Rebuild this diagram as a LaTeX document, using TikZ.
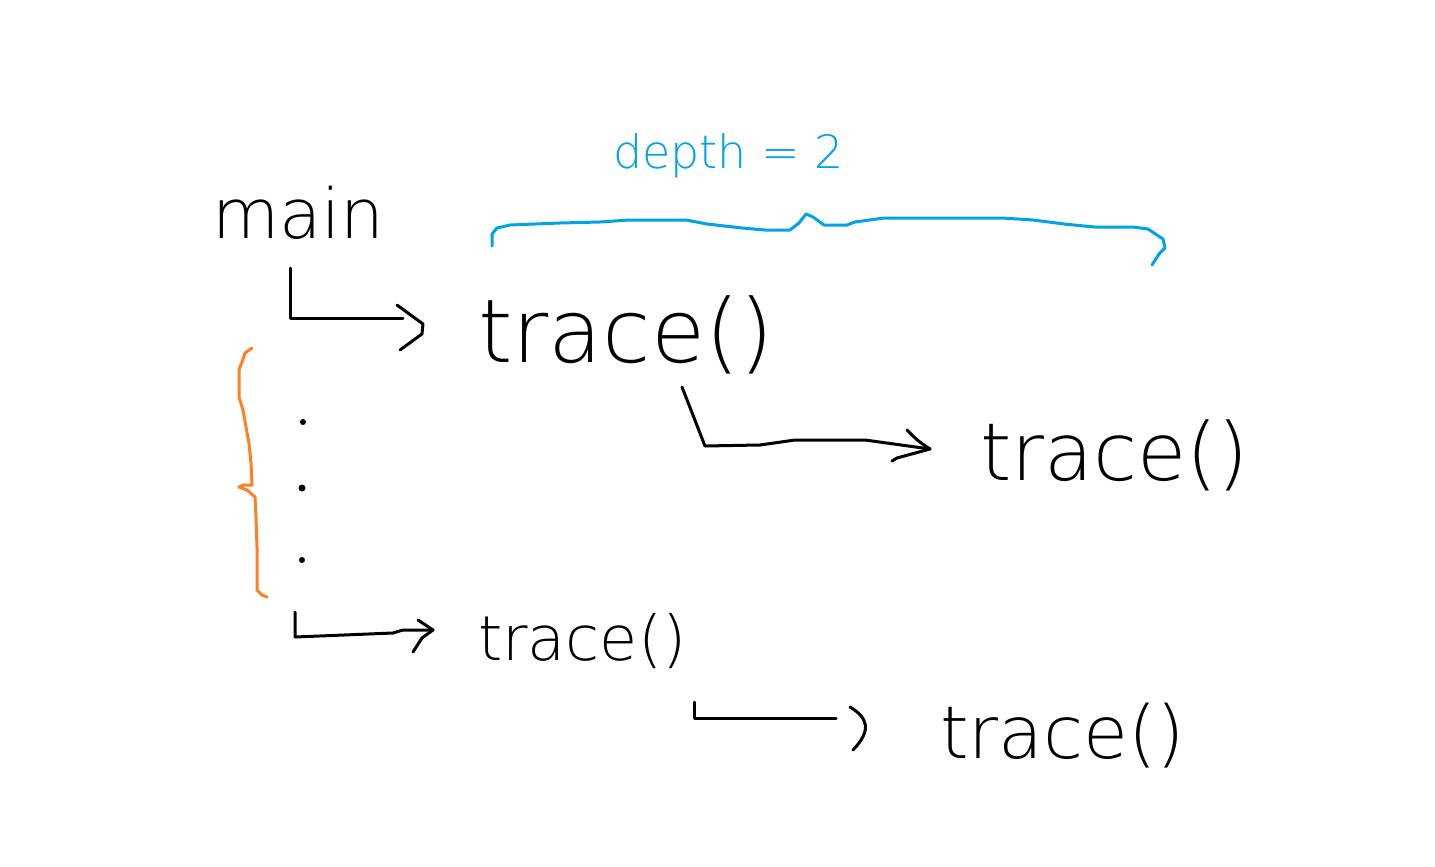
\documentclass[tikz,border=0pt]{standalone}
\usepackage{fontspec}
\setmainfont{DejaVuSans-ExtraLight.ttf}
\usetikzlibrary{calc}
\definecolor{paintblue}{RGB}{0,162,232}
\definecolor{paintorange}{RGB}{255,127,39}
\begin{document}
\begin{tikzpicture}[x=1pt,y=-1pt, line width=3pt, line cap=round, line join=round,
  txt/.style={anchor=base west, inner sep=0pt, outer sep=0pt},
  conn/.style={draw=black, line width=3pt},
  bluebrace/.style={draw=paintblue, line width=3pt},
  orangebrace/.style={draw=paintorange, line width=3pt}]
\useasboundingbox[fill=white] (0,0) rectangle (1435,867);

% texts
\node[txt, font=\fontsize{69}{70}\selectfont] (main) at (212,238) {main};
\node[txt, font=\fontsize{88}{90}\selectfont] (t1) at (478,362) {trace()};
\node[txt, font=\fontsize{80}{80}\selectfont] (t2) at (980,480) {trace()};
\node[txt, font=\fontsize{62}{64}\selectfont] (t3) at (478,660) {trace()};
\node[txt, font=\fontsize{73}{74}\selectfont] (t4) at (940,758) {trace()};
\node[txt, text=paintblue, font=\fontsize{46}{48}\selectfont] (depth) at (613,168) {depth = 2};

% main -> trace()
\coordinate (a1s) at ($(main.base west)+(78,30)$);
\coordinate (a1e) at ($(t1.base west)+(-55,-38)$);
\draw[conn] (a1s) |- ($(a1e)+(-20,-6)$);
\draw[conn] ($(a1e)+(-26,-19)$) -- (a1e) -- ($(a1e)+(-1,10)$) -- ($(a1e)+(-23,26)$);

% trace() -> trace()
\coordinate (a2s) at ($(t1.base west)+(204,25)$);
\coordinate (a2e) at ($(t2.base west)+(-50,-31)$);
\draw[conn] (a2s) -- ++(23,59) -- ++(55,-1) -- ++(35,-5) -- ++(70,0) -- (a2e);
\draw[conn] ($(a2e)+(-23,-19)$) .. controls ($(a2e)+(-12,-8)$) .. (a2e) -- ($(a2e)+(-33,9)$) -- ($(a2e)+(-38,12)$);

% ... -> trace()
\coordinate (a3s) at ($(t3.base west)+(-183,-48)$);
\coordinate (a3e) at ($(t3.base west)+(-45,-30)$);
\draw[conn] (a3s) -- ++(0,25) -- ($(a3e)+(-40,3)$) -- ($(a3e)+(-30,0)$) -- (a3e);
\draw[conn] ($(a3e)+(-15,-10)$) -- (a3e) -- ($(a3e)+(-11,8)$) -- ($(a3e)+(-20,22)$);

% -> trace() (bottom)
\coordinate (a4s) at ($(t4.base west)+(-246,-56)$);
\coordinate (a4e) at ($(t4.base west)+(-104,-40)$);
\coordinate (a4h) at ($(t4.base west)+(-70,-28)$);
\draw[conn] (a4s) |- (a4e);
\draw[conn] ($(a4h)+(-20,-23)$) .. controls ($(a4h)+(-2,-12)$) and ($(a4h)+(2,0)$) .. ($(a4h)+(-17,20)$);

% dots
\fill (303,422) circle (3);
\fill (302,488) circle (3.5);
\fill (302,560) circle (3);

% orange brace
\draw[orangebrace] (252,348) -- (245,353) -- (242,362) -- (239,370) -- (239,397) -- (243,410)
  -- (246,427) -- (249,443) -- (251,463) -- (252,485) -- (243,485) -- (239,487) -- (247,490)
  -- (255,497) -- (256,517) -- (257,547) -- (257,577) -- (257,590) -- (262,595) -- (267,597);

% blue brace
\draw[bluebrace] (492,246) -- (492,234) -- (497,228) -- (510,225) -- (560,223) -- (600,222)
  -- (629,220) -- (686,220) -- (707,224) -- (742,228) -- (765,230) -- (790,230) -- (799,223)
  -- (806,214) -- (813,217) -- (824,225) -- (847,225) -- (855,222) -- (884,218) -- (1002,218)
  -- (1033,220) -- (1064,224) -- (1094,227) -- (1133,227) -- (1148,229) -- (1163,239)
  -- (1165,248) -- (1159,254) -- (1152,265);
\end{tikzpicture}
\end{document}
